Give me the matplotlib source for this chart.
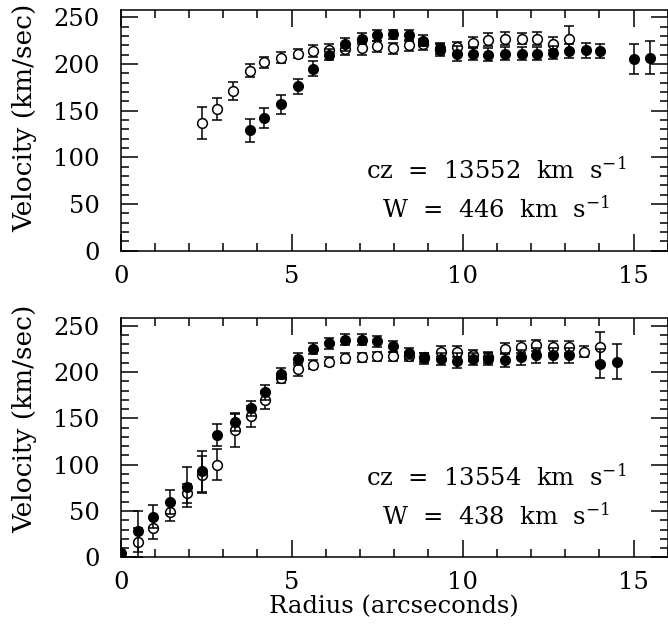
import matplotlib
matplotlib.use("Agg")
import matplotlib.pyplot as plt
from matplotlib.ticker import MultipleLocator

plt.rcParams["font.family"] = ["DejaVu Serif"]
plt.rcParams["mathtext.fontset"] = "dejavuserif"

# ---- top panel (cz = 13552) ----
top_r_open = [2.37, 2.81, 3.29, 3.78, 4.19, 4.69, 5.18, 5.63, 6.10, 6.56, 7.05, 7.49,
              7.97, 8.44, 8.85, 9.34, 9.84, 10.31, 10.75, 11.24, 11.73, 12.18, 12.63, 13.12]
top_v_open = [137, 152, 171, 193, 202, 207, 211, 214, 215, 216, 217, 219,
              217, 220, 221, 215, 218, 223, 226, 227, 227, 227, 222, 227]
top_e_open = [17, 12, 10, 7, 6, 6, 5, 6, 6, 6, 7, 6,
              6, 6, 6, 6, 6, 6, 7, 7, 6, 7, 7, 14]

top_r_fill = [3.78, 4.19, 4.69, 5.18, 5.63, 6.10, 6.56, 7.05, 7.49, 7.97, 8.44, 8.85, 9.34,
              9.84, 10.31, 10.75, 11.24, 11.73, 12.18, 12.63, 13.12, 13.61, 14.03, 15.01, 15.48]
top_v_fill = [129, 142, 157, 176, 195, 210, 221, 227, 231, 232, 231, 225, 217,
              211, 211, 210, 211, 211, 211, 212, 214, 215, 214, 205, 207]
top_e_fill = [12, 11, 10, 8, 8, 6, 7, 6, 6, 5, 6, 6, 6,
              8, 7, 7, 7, 7, 7, 7, 8, 8, 8, 16, 18]

# ---- bottom panel (cz = 13554) ----
bot_r_open = [0.50, 0.95, 1.44, 1.94, 2.38, 2.83, 3.33, 3.81, 4.22, 4.70, 5.19, 5.63, 6.10, 6.56, 7.05,
              7.49, 7.97, 8.44, 8.87, 9.36, 9.84, 10.31, 10.75, 11.24, 11.70, 12.16, 12.63, 13.12, 13.55, 14.03]
bot_v_open = [16, 32, 49, 69, 89, 100, 137, 152, 170, 193, 203, 208, 211, 215, 216,
              217, 217, 217, 216, 222, 222, 218, 216, 225, 227, 229, 227, 227, 222, 227]
bot_e_open = [16, 12, 10, 10, 20, 17, 18, 11, 10, 5, 7, 5, 5, 5, 5,
              5, 5, 5, 5, 6, 6, 6, 6, 6, 6, 6, 6, 6, 6, 16]

bot_r_fill = [0.0, 0.50, 0.95, 1.44, 1.94, 2.38, 2.83, 3.33, 3.81, 4.22, 4.70, 5.19, 5.63, 6.10, 6.56, 7.05,
              7.49, 7.97, 8.44, 8.87, 9.36, 9.84, 10.31, 10.75, 11.24, 11.70, 12.16, 12.63, 13.12, 14.03, 14.52]
bot_v_fill = [5, 28, 44, 60, 76, 93, 132, 146, 161, 178, 198, 214, 225, 231, 235, 235,
              233, 228, 220, 215, 214, 212, 214, 214, 213, 216, 218, 218, 218, 209, 211]
bot_e_fill = [0, 22, 12, 13, 22, 22, 12, 10, 8, 8, 6, 6, 6, 6, 6, 6,
              6, 6, 6, 6, 6, 8, 6, 6, 8, 8, 8, 8, 8, 16, 19]

labels_top = ["cz  =  13552  km  s$^{-1}$", "W  =  446  km  s$^{-1}$"]
labels_bot = ["cz  =  13554  km  s$^{-1}$", "W  =  438  km  s$^{-1}$"]

FS = 17.5
fig = plt.figure(figsize=(6.68, 6.31), dpi=100)
ax1 = fig.add_axes([0.1807, 0.6027, 0.8190, 0.3815])
ax2 = fig.add_axes([0.1807, 0.1168, 0.8190, 0.3788])


def draw(ax, ro, vo, eo, rf, vf, ef, labels, ylab_y):
    kw = dict(fmt="o", color="black", ecolor="black", elinewidth=1.1, capsize=3.6, capthick=1.1, ms=7)
    ax.errorbar(ro, vo, yerr=eo, mfc="white", mec="black", mew=1.1, zorder=2, **kw)
    ax.errorbar(rf, vf, yerr=ef, mfc="black", mec="black", zorder=3, **kw)
    ax.set_xlim(0, 16)
    ax.set_ylim(0, 258)
    ax.xaxis.set_major_locator(MultipleLocator(5))
    ax.xaxis.set_minor_locator(MultipleLocator(1))
    ax.yaxis.set_major_locator(MultipleLocator(50))
    ax.yaxis.set_minor_locator(MultipleLocator(10))
    ax.tick_params(which="both", direction="in", top=True, right=True, width=1.1, labelsize=FS)
    ax.tick_params(which="major", length=12)
    ax.tick_params(which="minor", length=6)
    ax.tick_params(axis="y", pad=15)
    ax.tick_params(axis="x", pad=10)
    for s in ax.spines.values():
        s.set_linewidth(1.1)
    ax.set_ylabel("Velocity (km/sec)", fontsize=19)
    ax.yaxis.set_label_coords(-0.152, ylab_y)
    ax.text(10.97, 86, labels[0], fontsize=FS, ha="center", va="center")
    ax.text(10.97, 44, labels[1], fontsize=FS, ha="center", va="center")


draw(ax1, top_r_open, top_v_open, top_e_open, top_r_fill, top_v_fill, top_e_fill, labels_top, 0.55)
draw(ax2, bot_r_open, bot_v_open, bot_e_open, bot_r_fill, bot_v_fill, bot_e_fill, labels_bot, 0.58)
ax2.set_xlabel("Radius (arcseconds)", fontsize=FS, labelpad=1)

fig.savefig("out.png", dpi=100)
